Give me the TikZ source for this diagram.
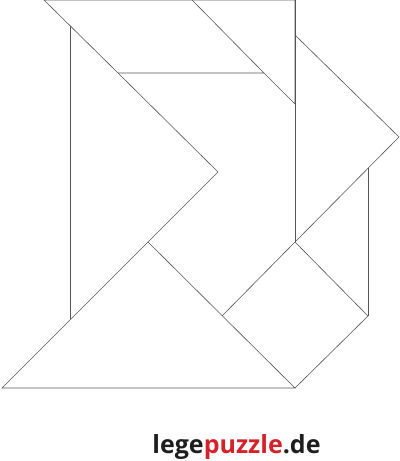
\documentclass[tikz,border=0pt]{standalone}
\usepackage{fontspec}
\setmainfont{Open Sans}
\usepackage{xcolor}
\usetikzlibrary{positioning}
\definecolor{legered}{HTML}{D2232A}
\definecolor{legeblack}{HTML}{1E1E1E}
\definecolor{edgegray}{HTML}{555555}

\begin{document}
\begin{tikzpicture}[x=0.75pt,y=-0.75pt, piece/.style={draw=edgegray, line width=0.45pt, line join=miter}]
    \useasboundingbox (0,0) rectangle (400,461);
    \coordinate (tl) at (44,0);
    \coordinate (tm) at (192,0);
    \coordinate (tr) at (295,0);
    \coordinate (ml) at (118,73);
    \coordinate (mr) at (264,73);
    \coordinate (rt) at (295,104);
    \coordinate (lt) at (70,26);
    \coordinate (tip) at (218,172);
    \coordinate (lb) at (70,319);
    \coordinate (apex) at (148,242);
    \coordinate (bl) at (2,388);
    \coordinate (br) at (295,388);
    \coordinate (sq) at (295,242);
    \coordinate (sql) at (222,316);
    \coordinate (sqr) at (368,316);
    \coordinate (at) at (295,35);
    \coordinate (ar) at (399,137);
    \coordinate (vt) at (368,168);
    \draw[piece] (tl) -- (tm) -- (mr) -- (ml) -- cycle;
    \draw[piece] (tm) -- (tr) -- (rt) -- (mr);
    \draw[piece] (lt) -- (lb);
    \draw[piece] (tip) -- (apex);
    \draw[piece] (ml) -- (tip);
    \draw[piece] (tr) -- (sq);
    \draw[piece] (at) -- (ar) -- (sq);
    \draw[piece] (bl) -- (apex) -- (br) -- cycle;
    \draw[piece] (sq) -- (sqr) -- (br);
    \draw[piece] (sq) -- (sql);
    \draw[piece] (vt) -- (sqr);
    \node[anchor=base, font=\fontsize{18.75}{20}\selectfont\bfseries, inner sep=0pt] (logo) at (236.5,453)
        {\textcolor{legeblack}{lege}\textcolor{legered}{puzzle}\textcolor{legeblack}{.de}};
\end{tikzpicture}
\end{document}
